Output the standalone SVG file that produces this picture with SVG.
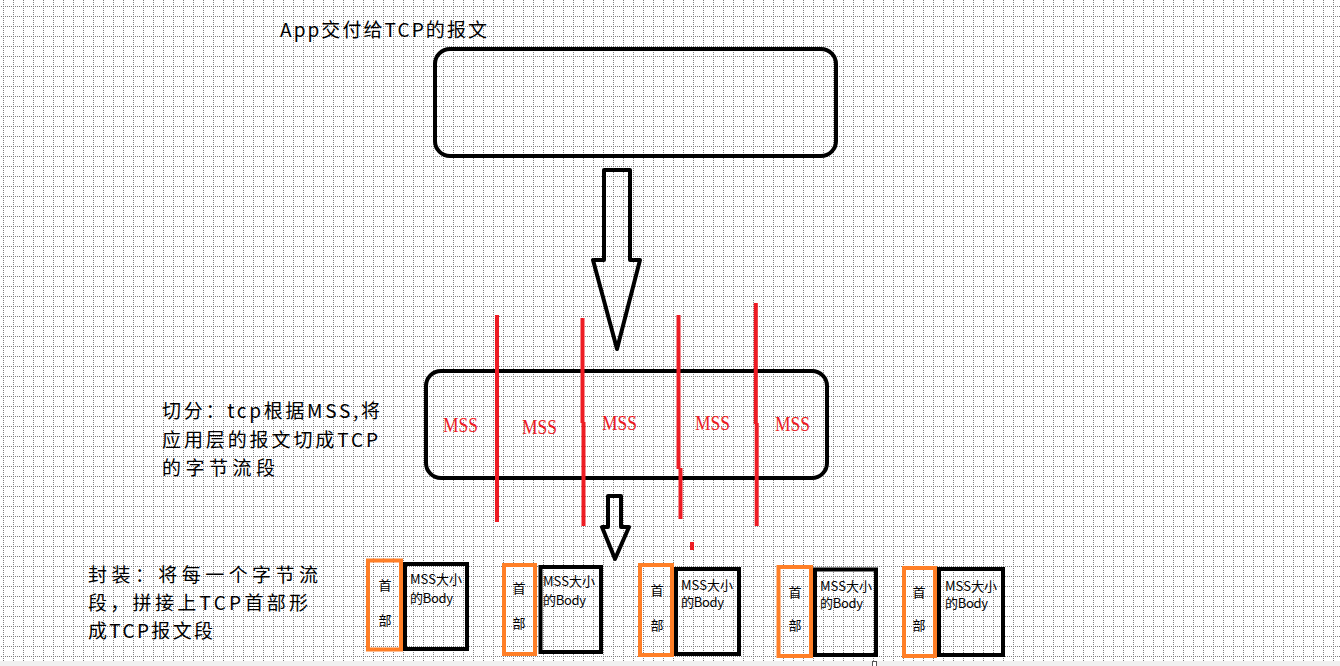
<svg xmlns="http://www.w3.org/2000/svg" width="1340" height="666" viewBox="0 0 1340 666">
  <defs>
    <pattern id="grid" x="3" y="6" width="10" height="10" patternUnits="userSpaceOnUse">
      <path d="M0,0h1v1h-1zM0,2h1v1h-1zM0,4h1v1h-1zM0,6h1v1h-1zM0,8h1v1h-1zM2,0h1v1h-1zM4,0h1v1h-1zM6,0h1v1h-1zM8,0h1v1h-1z" fill="#808080"/>
    </pattern>
  </defs>
  <style>
    .cjk { font-family: "Noto Sans CJK SC", "Noto Sans", sans-serif; fill: #000; }
    .big { font-size: 19px; }
    .small { font-size: 13px; }
    .mss { font-family: "Liberation Serif", serif; font-size: 22px; fill: #ed1c24; }
    .box { fill: none; stroke: #000; stroke-width: 4; }
    .hdr { fill: none; stroke: #ff7f27; stroke-width: 4; }
    .body { fill: none; stroke: #000; stroke-width: 4; }
    .cut { stroke: #ed1c24; stroke-width: 4; fill: none; }
    .arrow { fill: none; stroke: #000; stroke-width: 4; stroke-linejoin: round; }
  </style>

  <rect x="0" y="0" width="1340" height="666" fill="#fff"/>
  <rect x="0" y="0" width="1340" height="661" fill="url(#grid)"/>
  <rect x="0" y="661" width="1340" height="5" fill="#f0f0f0"/>
  <rect x="872.5" y="661.5" width="4" height="5" fill="#fff" stroke="#555" stroke-width="1"/>

  <g id="title">
    <text class="cjk big" x="280" y="37" textLength="207">App交付给TCP的报文</text>
  </g>

  <g id="source-box">
    <rect class="box" x="435" y="49" width="401" height="107" rx="15" ry="15"/>
  </g>

  <g id="segmented-box">
    <rect class="box" x="426" y="371" width="401" height="107" rx="15" ry="15"/>
    <text class="mss" x="443" y="432" textLength="35" lengthAdjust="spacingAndGlyphs">MSS</text>
    <text class="mss" x="522" y="434" textLength="35" lengthAdjust="spacingAndGlyphs">MSS</text>
    <text class="mss" x="602" y="430" textLength="35" lengthAdjust="spacingAndGlyphs">MSS</text>
    <text class="mss" x="695" y="430" textLength="35" lengthAdjust="spacingAndGlyphs">MSS</text>
    <text class="mss" x="775" y="431" textLength="35" lengthAdjust="spacingAndGlyphs">MSS</text>
  </g>

  <g id="cut-lines">
    <path class="cut" d="M497,315V522"/>
    <path class="cut" d="M582.5,318V423M583.5,422V526"/>
    <path class="cut" d="M678.5,315V469M680.5,468V519"/>
    <path class="cut" d="M755.8,303V424M756.7,423V526"/>
    <rect x="690" y="542" width="4" height="8" fill="#ed1c24"/>
  </g>

  <g id="cut-label">
    <text class="cjk big" x="162" y="418" textLength="218">切分：tcp根据MSS,将</text>
    <text class="cjk big" x="162" y="447" textLength="216">应用层的报文切成TCP</text>
    <text class="cjk big" x="162" y="475" textLength="113">的字节流段</text>
  </g>

  <g id="pack-label">
    <text class="cjk big" x="88" y="582" textLength="230">封装：将每一个字节流</text>
    <text class="cjk big" x="88" y="610" textLength="220">段，拼接上TCP首部形</text>
    <text class="cjk big" x="88" y="638" textLength="125">成TCP报文段</text>
  </g>

  <g id="connectors">
    <path class="arrow" d="M604,170H630V260H640L617,349L593,260H604Z"/>
    <path class="arrow" d="M608,496H621V527H629L615,559L602,527H608Z"/>
  </g>

  <g id="segment-1">
    <rect class="hdr" x="368" y="560.5" width="33" height="89"/>
    <rect class="body" x="405" y="564" width="62" height="85"/>
    <text class="cjk small" x="385" y="590" text-anchor="middle">首</text>
    <text class="cjk small" x="385" y="625" text-anchor="middle">部</text>
    <text class="cjk small" x="410" y="584" textLength="52">MSS大小</text>
    <text class="cjk small" x="410" y="603" textLength="43">的Body</text>
  </g>

  <g id="segment-2">
    <rect class="hdr" x="504" y="565" width="31" height="89"/>
    <rect class="body" x="540.5" y="567" width="60.5" height="85"/>
    <text class="cjk small" x="519" y="593" text-anchor="middle">首</text>
    <text class="cjk small" x="519" y="628" text-anchor="middle">部</text>
    <text class="cjk small" x="543" y="586" textLength="52">MSS大小</text>
    <text class="cjk small" x="543" y="605" textLength="43">的Body</text>
  </g>

  <g id="segment-3">
    <rect class="hdr" x="640" y="565" width="32" height="90"/>
    <rect class="body" x="676" y="569" width="63" height="85"/>
    <text class="cjk small" x="657" y="595" text-anchor="middle">首</text>
    <text class="cjk small" x="657" y="630" text-anchor="middle">部</text>
    <text class="cjk small" x="681" y="590" textLength="52">MSS大小</text>
    <text class="cjk small" x="681" y="607" textLength="43">的Body</text>
  </g>

  <g id="segment-4">
    <rect class="hdr" x="778.5" y="567" width="32.5" height="89"/>
    <rect class="body" x="815" y="569.5" width="61" height="85.5"/>
    <text class="cjk small" x="795" y="597" text-anchor="middle">首</text>
    <text class="cjk small" x="795" y="630" text-anchor="middle">部</text>
    <text class="cjk small" x="820" y="591" textLength="52">MSS大小</text>
    <text class="cjk small" x="820" y="608" textLength="43">的Body</text>
  </g>

  <g id="segment-5">
    <rect class="hdr" x="904" y="568" width="31" height="88"/>
    <rect class="body" x="939" y="569" width="64" height="86"/>
    <text class="cjk small" x="919" y="597" text-anchor="middle">首</text>
    <text class="cjk small" x="919" y="630" text-anchor="middle">部</text>
    <text class="cjk small" x="945" y="591" textLength="52">MSS大小</text>
    <text class="cjk small" x="945" y="608" textLength="43">的Body</text>
  </g>
</svg>
